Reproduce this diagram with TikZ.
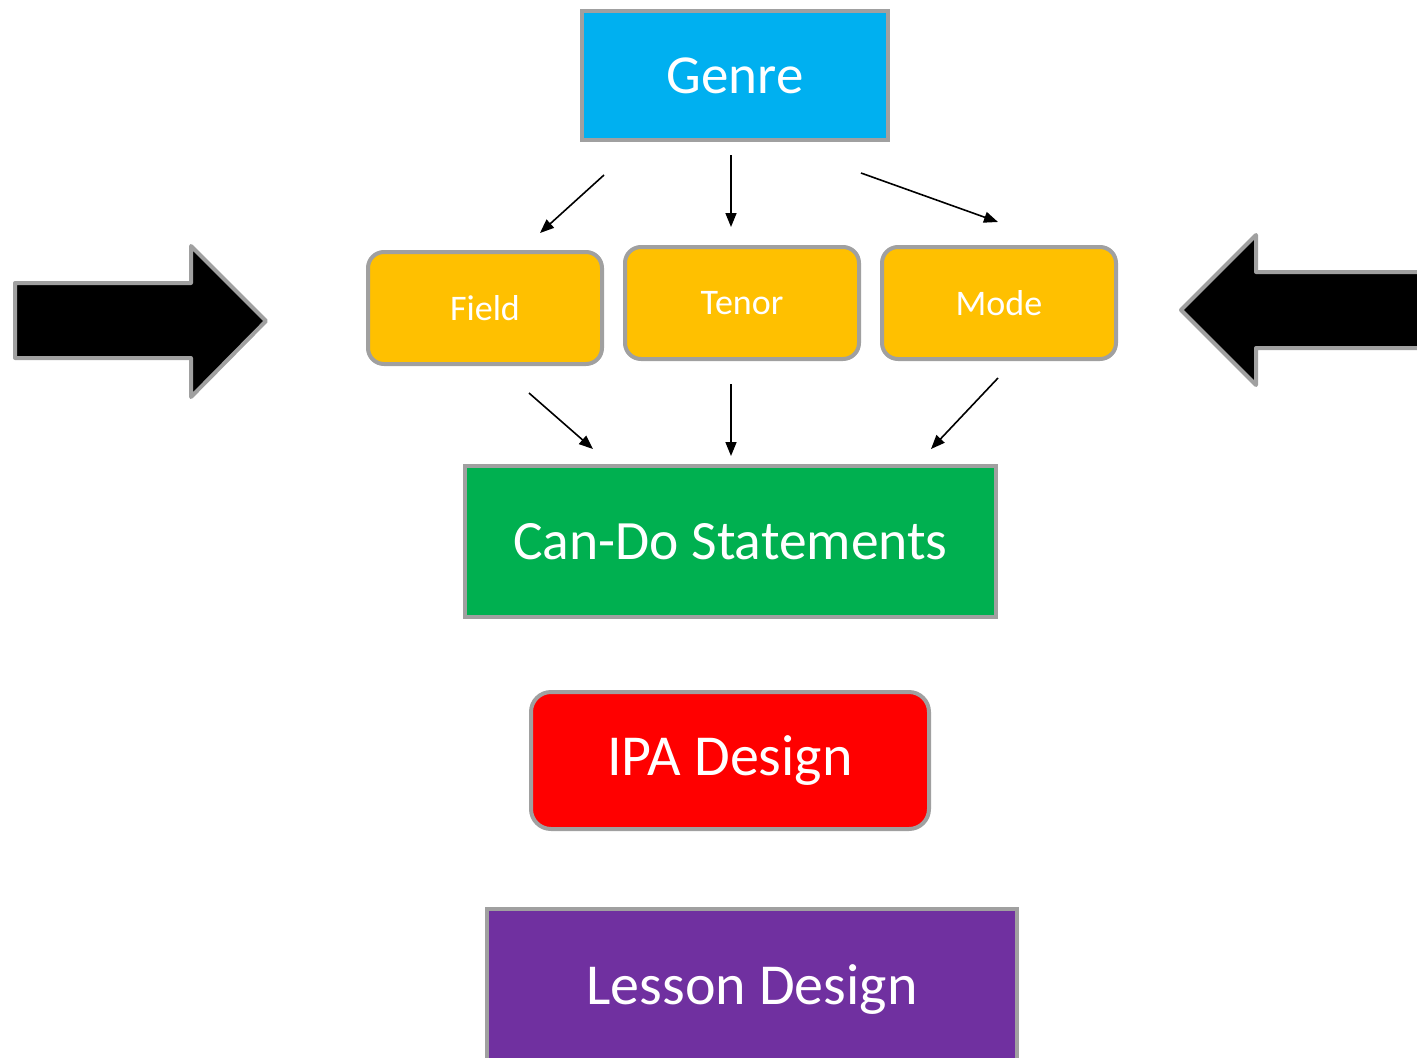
\documentclass[tikz,border=0pt]{standalone}
\usepackage{fontspec}
\setmainfont{Carlito}
\usetikzlibrary{arrows.meta}
\definecolor{bordergray}{HTML}{A0A0A0}
\definecolor{genreblue}{HTML}{00B0F0}
\definecolor{ctxgold}{HTML}{FFC000}
\definecolor{candogreen}{HTML}{00B050}
\definecolor{ipared}{HTML}{FF0000}
\definecolor{lessonpurple}{HTML}{7030A0}
\tikzset{
  box/.style={draw=bordergray, line width=4pt, text=white, inner sep=0pt, anchor=north west},
  ctxbox/.style={box, fill=ctxgold, rounded corners=16pt, minimum width=234pt, minimum height=112pt, font=\fontsize{36}{42}\selectfont},
  thinarrow/.style={line width=1.6pt, -{Triangle[length=14pt,width=11pt]}},
  bigarrow/.style={fill=black, draw=bordergray, line width=4pt, line join=round}
}
\begin{document}
\begin{tikzpicture}[x=1pt,y=-1pt]
\useasboundingbox (0,0) rectangle (1417,1058);
% boxes
\node[box, fill=genreblue, minimum width=306pt, minimum height=129pt, font=\fontsize{55}{60}\selectfont] (genre) at (580,9) {Genre};
\node[ctxbox] (field) at (366,250) {Field};
\node[ctxbox] (tenor) at (623,245) {Tenor};
\node[ctxbox] (mode) at (880,245) {Mode};
\node[box, fill=candogreen, minimum width=531pt, minimum height=151pt, font=\fontsize{55.5}{60}\selectfont] (cando) at (463,464) {Can-Do Statements};
\node[box, fill=ipared, rounded corners=20pt, minimum width=398pt, minimum height=137pt, font=\fontsize{58}{64}\selectfont] (ipa) at (529,690) {IPA Design};
\node[box, fill=lessonpurple, minimum width=530pt, minimum height=160pt, font=\fontsize{58}{64}\selectfont, text depth=0pt] (lesson) at (485,907) {\raisebox{8pt}{Lesson Design}};
% connector end points
\coordinate (g1) at (604,175); \coordinate (f1) at (540,233);
\coordinate (g2) at (731,155); \coordinate (t1) at (731,227);
\coordinate (g3) at (861,173); \coordinate (m1) at (998,222);
\coordinate (f2) at (529,393); \coordinate (c1) at (593,449);
\coordinate (t2) at (731,384); \coordinate (c2) at (731,456);
\coordinate (m2) at (998,378); \coordinate (c3) at (931,449);
\draw[thinarrow] (g1) -- (f1);
\draw[thinarrow] (g2) -- (t1);
\draw[thinarrow] (g3) -- (m1);
\draw[thinarrow] (f2) -- (c1);
\draw[thinarrow] (t2) -- (c2);
\draw[thinarrow] (m2) -- (c3);
% big arrows
\draw[bigarrow] (15,283) -- (191,283) -- (191,246) -- (266,321) -- (191,397) -- (191,358) -- (15,358) -- cycle;
\draw[bigarrow] (1425,272) -- (1256,272) -- (1256,235) -- (1181,310) -- (1256,385) -- (1256,348) -- (1425,348);
\end{tikzpicture}
\end{document}
